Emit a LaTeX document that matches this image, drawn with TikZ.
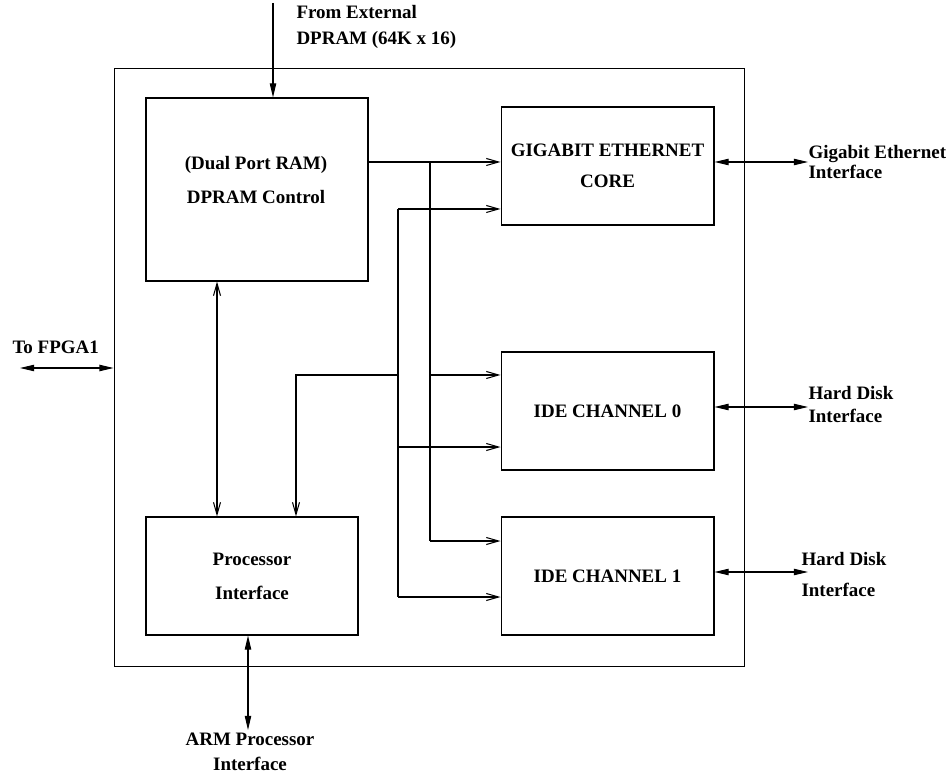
\documentclass[tikz,border=0pt]{standalone}
\usepackage{fontspec}
\setmainfont{Liberation Serif}
\usepackage{tikz}
\usetikzlibrary{positioning, arrows.meta, calc}

\begin{document}
\begin{tikzpicture}[
  x=0.02cm, y=-0.02cm,
  line width=0.6pt,
  lbl/.style={font=\bfseries\fontsize{10.8}{#1}\selectfont, inner sep=0pt, align=center},
  lbl/.default=19pt,
  block/.style={draw, minimum width=4.26cm, minimum height=2.36cm, inner sep=0pt},
  flow/.style={-{Straight Barb[length=7pt,width=4pt]}},
  flowboth/.style={{Straight Barb[length=7pt,width=4pt]}-{Straight Barb[length=7pt,width=4pt]}},
  ext/.style={-{Triangle[length=8pt,width=3.6pt]}},
  extboth/.style={{Triangle[length=8pt,width=3.6pt]}-{Triangle[length=8pt,width=3.6pt]}}
]
\useasboundingbox (0,0) rectangle (950,773);

% outer board
\node[draw, minimum width=12.62cm, minimum height=11.98cm, inner sep=0pt] (board) at (429.5,367.5) {};

% blocks
\node[block, minimum width=4.44cm, minimum height=3.66cm] (dpram) at (257,189.5) {};
\node[lbl=19.3pt] (dpramtxt) at (256,180) {(Dual Port RAM)\\DPRAM Control};
\node[block, lbl=17.6pt] (gige) at (607.5,166) {GIGABIT ETHERNET\\CORE};
\node[block, lbl] (ide0) at (607.5,411) {IDE CHANNEL 0};
\node[block, lbl] (ide1) at (607.5,576) {IDE CHANNEL 1};
\node[block, lbl=19.3pt, minimum width=4.24cm] (proc) at (252,576) {Processor\\Interface};

% outside labels
\node[lbl=14.8pt, align=left, anchor=west] (extlbl) at (296,27) {From External\\DPRAM (64K x 16)};
\node[lbl, anchor=west] (fpgalbl) at (12,347) {To FPGA1};
\node[lbl=11.9pt, align=left, anchor=west] (gilbl) at (808,162) {Gigabit Ethernet\\Interface};
\node[lbl=13.1pt, align=left, anchor=west] (hd0lbl) at (808,404.5) {Hard Disk\\Interface};
\node[lbl=17.6pt, align=left, anchor=west] (hd1lbl) at (801,574.5) {Hard Disk\\Interface};
\node[lbl=14.2pt] (armlbl) at (250,752) {ARM Processor\\Interface};

% junction points
\coordinate (d0) at (368,162);
\coordinate (ja) at (430,162);
\coordinate (a1) at (430,375);
\coordinate (a2) at (430,541);
\coordinate (b0) at (398,375);
\coordinate (b1) at (398,209);
\coordinate (b2) at (398,447);
\coordinate (b3) at (398,597);
\coordinate (p0) at (296,375);
\coordinate (dx) at (217,400);

% DPRAM bus
\draw[flow] (d0) -- (d0 -| gige.west);
\draw (ja) -- (a2);
\draw[flow] (a1) -- (a1 -| ide0.west);
\draw[flow] (a2) -- (a2 -| ide1.west);

% processor bus
\draw (b1) -- (b3);
\draw[flow] (b1) -- (b1 -| gige.west);
\draw[flow] (b2) -- (b2 -| ide0.west);
\draw[flow] (b3) -- (b3 -| ide1.west);
\draw[flow] (b0) -- (p0) -- (p0 |- proc.north);
\draw[flowboth] (dx |- dpram.south) -- (dx |- proc.north);

% external links
\coordinate (extin) at (273,3);
\coordinate (fpga) at (20,368);
\coordinate (gi) at (808,162);
\coordinate (hd0) at (808,407);
\coordinate (hd1) at (808,572);
\coordinate (arm) at (248,730);
\draw[ext] (extin) -- (extin |- dpram.north);
\draw[extboth] (fpga) -- (fpga -| board.west);
\draw[extboth] (gi -| gige.east) -- (gi);
\draw[extboth] (hd0 -| ide0.east) -- (hd0);
\draw[extboth] (hd1 -| ide1.east) -- (hd1);
\draw[extboth] (arm |- proc.south) -- (arm);

\end{tikzpicture}
\end{document}
